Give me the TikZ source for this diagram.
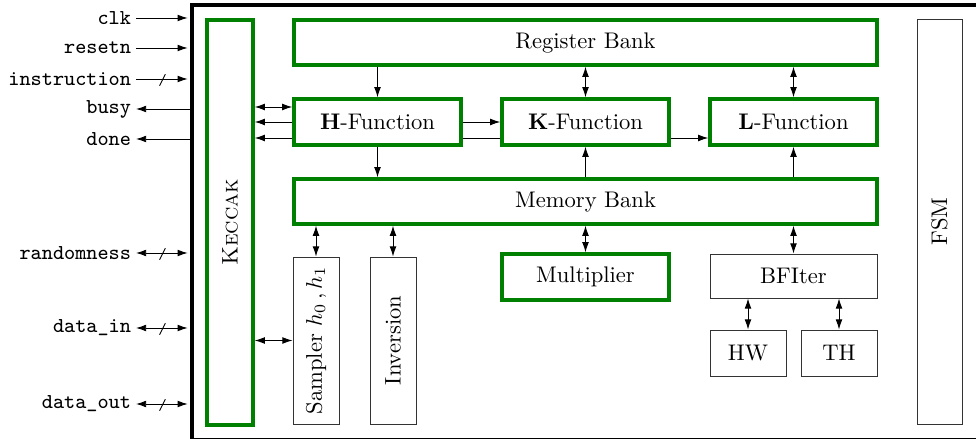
\documentclass[tikz,border=0pt]{standalone}
\usetikzlibrary{decorations.markings,arrows.meta}

\newcommand\pxu{0.01557cm}
\tikzstyle{greenbox} = [draw=green!50!black,line width=1.5pt,fill=white,inner sep=0pt,minimum height=46*\pxu]
\tikzstyle{plainbox} = [draw=black!80,fill=white,inner sep=0pt,minimum height=46*\pxu]
\tikzstyle{sig} = [anchor=east,inner sep=2pt,font=\ttfamily\fontsize{9.4}{11}\selectfont]
\tikzstyle{bus} = [postaction={decorate,decoration={markings,mark=at position 0.5 with {\draw[-] (-1.5pt,-3pt) -- (1.5pt,3pt);}}}]

\begin{document}
\begin{tikzpicture}[x=\pxu,y=-\pxu,>={Latex[length=4.5pt,width=3pt]}]
	\useasboundingbox (0,0) rectangle (976,439);
	\clip (0,0) rectangle (976,439);
	\node[draw,line width=1.8pt,inner sep=0pt,minimum width=788*\pxu,minimum height=435.2*\pxu] (chip) at (586,222.6) {};
	% blocks
	\node[greenbox,rotate=90,minimum width=405*\pxu] (keccak) at (230,222.5) {\textsc{Keccak}};
	\node[greenbox,minimum width=583*\pxu,minimum height=45*\pxu] (regbank) at (585.5,42.5) {Register Bank};
	\node[greenbox,minimum width=167*\pxu] (hfun) at (377.5,122) {\textbf{H}-Function};
	\node[greenbox,minimum width=167*\pxu] (kfun) at (585.5,122) {\textbf{K}-Function};
	\node[greenbox,minimum width=167*\pxu] (lfun) at (793.5,122) {\textbf{L}-Function};
	\node[greenbox,minimum width=583*\pxu,minimum height=45*\pxu] (membank) at (585.5,201.5) {Memory Bank};
	\node[plainbox,rotate=90,minimum width=167*\pxu] (sampler) at (316,340.5) {Sampler $h_0$\,,\,$h_1$};
	\node[plainbox,rotate=90,minimum width=167*\pxu] (inversion) at (393,340.5) {Inversion};
	\node[greenbox,minimum width=167*\pxu] (mult) at (585.5,277) {Multiplier};
	\node[plainbox,minimum width=167*\pxu,minimum height=44*\pxu] (bfiter) at (793.5,276) {BFIter};
	\node[plainbox,minimum width=76*\pxu] (hw) at (748,353) {HW};
	\node[plainbox,minimum width=76*\pxu] (th) at (839,353) {TH};
	\node[plainbox,rotate=90,minimum width=405*\pxu,minimum height=45*\pxu] (fsm) at (939.5,221.5) {FSM};
	% signals
	\node[sig] (clk) at (136,18) {clk};
	\node[sig] (resetn) at (136,48) {resetn};
	\node[sig] (instr) at (136,79) {instruction};
	\node[sig] (busy) at (136,109) {busy};
	\node[sig] (done) at (136,139) {done};
	\node[sig] (rand) at (136,253) {randomness};
	\node[sig] (din) at (136,328) {data\_in};
	\node[sig] (dout) at (136,404) {data\_out};
	\draw[->,shorten >=1pt] (clk) -- (clk -| chip.west);
	\draw[->,shorten >=1pt] (resetn) -- (resetn -| chip.west);
	\draw[->,shorten >=1pt,bus] (instr) -- (instr -| chip.west);
	\draw[<-] (busy) -- (busy -| chip.west);
	\draw[<-] (done) -- (done -| chip.west);
	\draw[<->,shorten >=1pt,bus] (rand) -- (rand -| chip.west);
	\draw[<->,shorten >=1pt,bus] (din) -- (din -| chip.west);
	\draw[<->,shorten >=1pt,bus] (dout) -- (dout -| chip.west);
	% connections
	\draw[->] (regbank.south -| hfun.north) -- (hfun.north);
	\draw[<->] (regbank.south -| kfun.north) -- (kfun.north);
	\draw[<->] (regbank.south -| lfun.north) -- (lfun.north);
	\draw[->] (hfun.south) -- (hfun.south |- membank.north);
	\draw[->] (membank.north -| kfun.south) -- (kfun.south);
	\draw[->] (membank.north -| lfun.south) -- (lfun.south);
	\draw[->] (hfun.east) -- (kfun.west);
	\draw (hfun.east |- 0,138) -- (kfun.west |- 0,138);
	\draw[->] (kfun.east |- 0,138) -- (lfun.west |- 0,138);
	\draw[<->] (keccak.south |- 0,107) -- (hfun.west |- 0,107);
	\draw[<-] (keccak.south |- hfun.west) -- (hfun.west);
	\draw[<-] (keccak.south |- 0,138) -- (hfun.west |- 0,138);
	\draw[<->] (keccak.south |- sampler) -- (sampler.north);
	\draw[<->] (membank.south -| sampler) -- (sampler.east);
	\draw[<->] (membank.south -| inversion) -- (inversion.east);
	\draw[<->] (membank.south -| mult.north) -- (mult.north);
	\draw[<->] (membank.south -| bfiter.north) -- (bfiter.north);
	\draw[<->] (bfiter.south -| hw.north) -- (hw.north);
	\draw[<->] (bfiter.south -| th.north) -- (th.north);
\end{tikzpicture}
\end{document}
